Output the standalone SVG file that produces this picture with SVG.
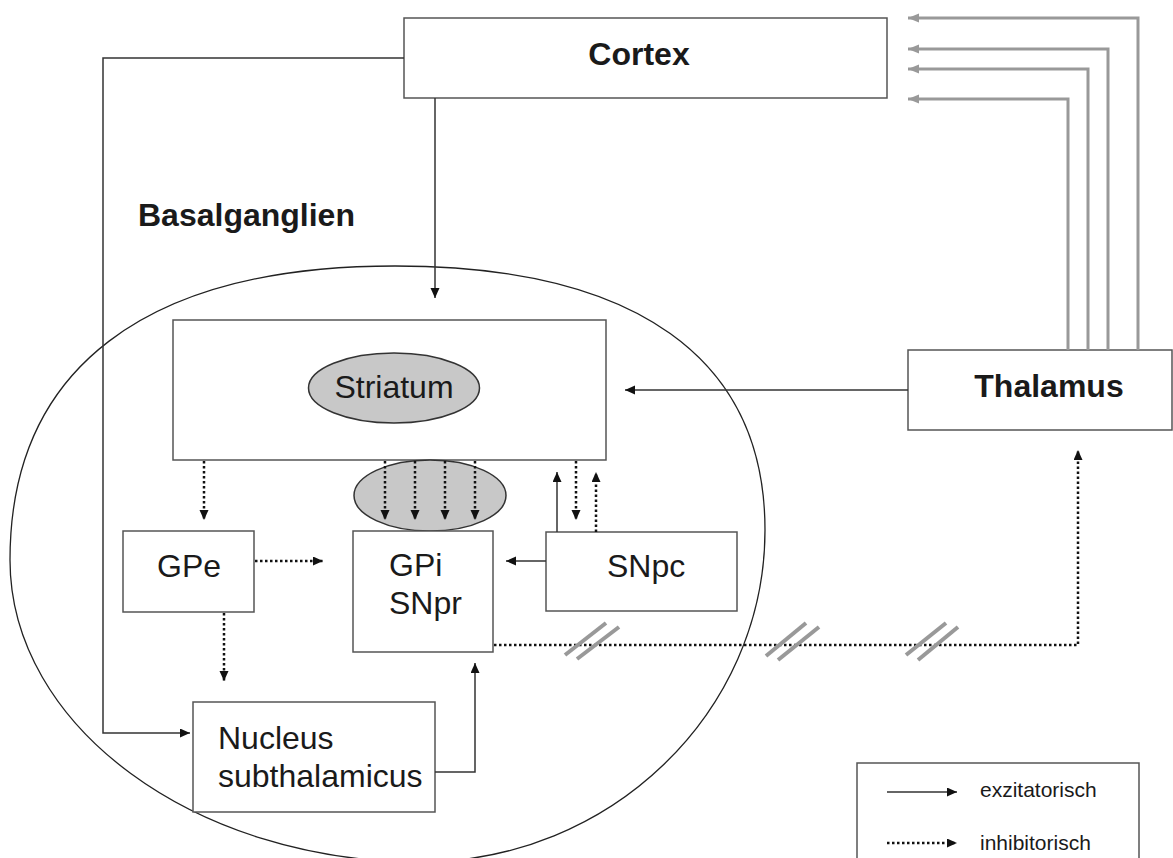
<svg xmlns="http://www.w3.org/2000/svg" width="1173" height="858" viewBox="0 0 1173 858">
<defs>
<style>
.box{fill:#fff;stroke:#555;stroke-width:1.5}
.ln{fill:none;stroke:#333;stroke-width:1.5}
.dot{fill:none;stroke:#111;stroke-width:2.5;stroke-dasharray:2.5 2.5}
.gray{fill:none;stroke:#999;stroke-width:3}
.hash{stroke:#999;stroke-width:4}
.t{font-family:"Liberation Sans",Arial,sans-serif;font-size:32px;fill:#1a1a1a}
.b{font-weight:bold}
.lg{font-family:"Liberation Sans",Arial,sans-serif;font-size:21px;fill:#1a1a1a}
.oval{fill:#c8c8c8;stroke:#333;stroke-width:1.5}
</style>
<marker id="ah" markerUnits="userSpaceOnUse" markerWidth="11" markerHeight="10" refX="10" refY="4.5" orient="auto"><path d="M0,0 L10,4.5 L0,9 z" fill="#111"/></marker>
<marker id="ag" markerUnits="userSpaceOnUse" markerWidth="12" markerHeight="10" refX="11" refY="4.5" orient="auto"><path d="M0,0 L11,4.5 L0,9 z" fill="#999"/></marker>
</defs>
<rect width="1173" height="858" fill="#fff"/>
<g id="basalganglien">
<path d="M395,266 C635.5,266 765,358 765,530 C765,712.6 610,862 420,862 C194.5,862 10,726 10,560 C10,369 145,266 395,266 Z" fill="none" stroke="#222" stroke-width="1.3"/>
<text class="t b" x="138" y="226">Basalganglien</text>
</g>
<g id="cortex"><rect class="box" x="404" y="18" width="483" height="80"/><text class="t b" x="639" y="65" text-anchor="middle">Cortex</text></g>
<g id="thalamus"><rect class="box" x="908" y="350" width="264" height="80"/><text class="t b" x="1049" y="397" text-anchor="middle">Thalamus</text></g>
<g id="striatum"><rect class="box" x="173" y="320" width="433" height="140"/><ellipse class="oval" cx="394" cy="388" rx="85.5" ry="35"/><text class="t" x="394" y="398" text-anchor="middle">Striatum</text></g>
<g id="striatum-output"><ellipse class="oval" cx="430" cy="495.5" rx="76" ry="35.5"/></g>
<g id="gpe"><rect class="box" x="123" y="531" width="131" height="81"/><text class="t" x="157" y="577">GPe</text></g>
<g id="gpi"><rect class="box" x="353" y="531" width="140" height="121"/><text class="t" x="389" y="576">GPi</text><text class="t" x="389" y="614">SNpr</text></g>
<g id="snpc"><rect class="box" x="546" y="532" width="191" height="79"/><text class="t" x="607" y="577">SNpc</text></g>
<g id="nucleus"><rect class="box" x="193" y="702" width="242" height="110"/><text class="t" x="218" y="749">Nucleus</text><text class="t" x="218" y="787">subthalamicus</text></g>
<g id="connectors">
<path class="ln" d="M404,58 H103 V733 H190" marker-end="url(#ah)"/>
<path class="ln" d="M435,98 V298" marker-end="url(#ah)"/>
<path class="ln" d="M908,390 H625" marker-end="url(#ah)"/>
<path class="gray" d="M1138,350 V18 H908" marker-end="url(#ag)"/>
<path class="gray" d="M1108,350 V49 H908" marker-end="url(#ag)"/>
<path class="gray" d="M1088,350 V69 H908" marker-end="url(#ag)"/>
<path class="gray" d="M1068,350 V99 H908" marker-end="url(#ag)"/>
<path class="dot" d="M204,461 V520" marker-end="url(#ah)"/>
<path class="dot" d="M385,461 V520" marker-end="url(#ah)"/>
<path class="dot" d="M415,461 V520" marker-end="url(#ah)"/>
<path class="dot" d="M445,461 V520" marker-end="url(#ah)"/>
<path class="dot" d="M475,461 V520" marker-end="url(#ah)"/>
<path class="ln" d="M557,532 V472" marker-end="url(#ah)"/>
<path class="dot" d="M576,461 V520" marker-end="url(#ah)"/>
<path class="dot" d="M596,532 V472" marker-end="url(#ah)"/>
<path class="ln" d="M546,561 H506" marker-end="url(#ah)"/>
<path class="dot" d="M255,561 H323" marker-end="url(#ah)"/>
<path class="dot" d="M224,613 V681" marker-end="url(#ah)"/>
<path class="ln" d="M435,772 H475 V663" marker-end="url(#ah)"/>
<path class="dot" d="M494,645 H1078 V450" marker-end="url(#ah)"/>
<line class="hash" x1="565" y1="655" x2="606" y2="623"/>
<line class="hash" x1="577" y1="659" x2="619" y2="627"/>
<line class="hash" x1="766" y1="656" x2="806" y2="623"/>
<line class="hash" x1="778" y1="660" x2="819" y2="627"/>
<line class="hash" x1="906" y1="655" x2="946" y2="623"/>
<line class="hash" x1="918" y1="660" x2="958" y2="627"/>
</g>
<g id="legend">
<rect class="box" x="857" y="763" width="282" height="110"/>
<path class="ln" d="M887,792 H957" marker-end="url(#ah)"/>
<text class="lg" x="980" y="797">exzitatorisch</text>
<path class="dot" d="M887,843 H957" marker-end="url(#ah)"/>
<text class="lg" x="980" y="850">inhibitorisch</text>
</g>
</svg>
